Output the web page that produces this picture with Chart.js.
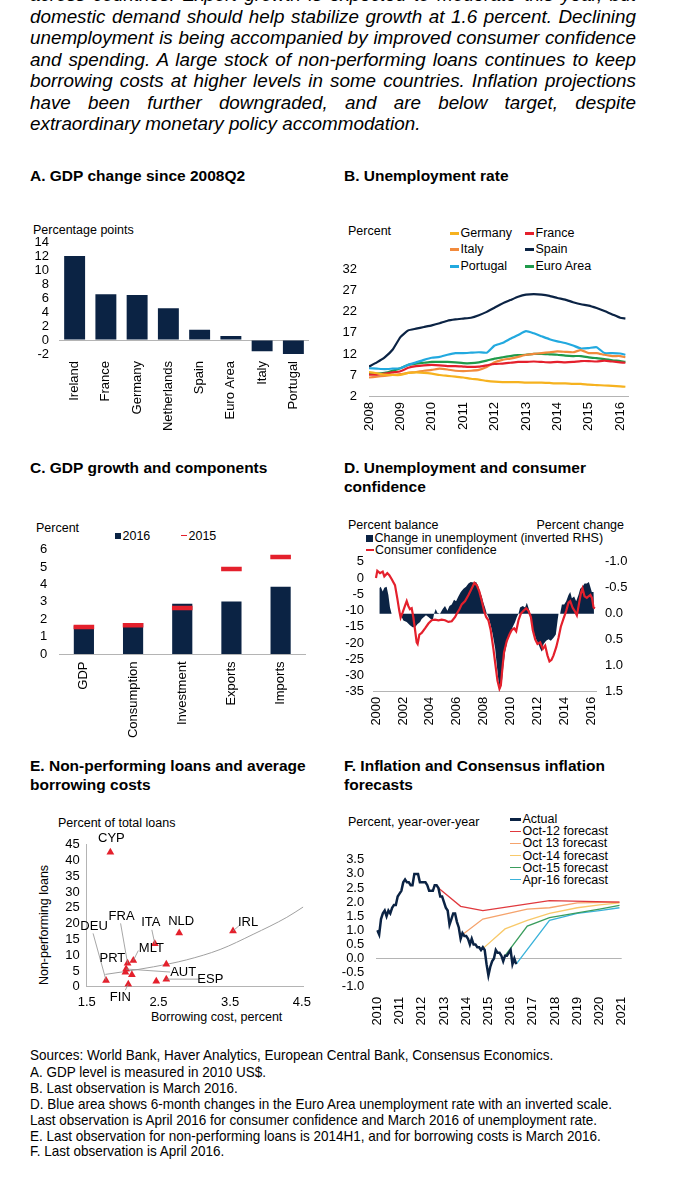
<!DOCTYPE html>
<html>
<head>
<meta charset="utf-8">
<title>Euro Area</title>
<script src="https://cdn.jsdelivr.net/npm/chart.js@4.4.1/dist/chart.umd.min.js"></script>
<style>
  html, body { margin: 0; padding: 0; background: #fff; }
  body { position: relative; width: 675px; height: 1200px; overflow: hidden; font-family: "Liberation Sans", Arial, sans-serif; color: #000; }
  .t { position: absolute; white-space: nowrap; font-size: 12.5px; line-height: 16px; }
  .h { position: absolute; white-space: nowrap; font-weight: bold; font-size: 15.5px; line-height: 19px; }
  .pl { position: absolute; left: 30px; width: 606px; font-family: "Liberation Sans Narrow", "Arial Narrow", sans-serif; font-style: italic; font-size: 19px; line-height: 22px; height: 22px; text-align: justify; text-align-last: justify; transform-origin: 0 0; }
  .pl.last { text-align-last: left; }
  .fn { position: absolute; left: 30px; font-family: "Liberation Sans Narrow", "Arial Narrow", sans-serif; font-size: 15px; line-height: 16px; white-space: nowrap; transform-origin: 0 0; }
  canvas { position: absolute; }
  .mk { position: absolute; }
</style>
</head>
<body>

<div class="pl" style="top:-16px">across countries. Export growth is expected to moderate this year, but</div>
<div class="pl" style="top:5.5px">domestic demand should help stabilize growth at 1.6 percent. Declining</div>
<div class="pl" style="top:27px">unemployment is being accompanied by improved consumer confidence</div>
<div class="pl" style="top:48.5px">and spending. A large stock of non-performing loans continues to keep</div>
<div class="pl" style="top:70px">borrowing costs at higher levels in some countries. Inflation projections</div>
<div class="pl" style="top:91.5px">have been further downgraded, and are below target, despite</div>
<div class="pl last" style="top:113px">extraordinary monetary policy accommodation.</div>

<div class="h" style="left:30px;top:165.5px">A. GDP change since 2008Q2</div>
<div class="h" style="left:344px;top:165.5px">B. Unemployment rate</div>
<div class="h" style="left:30px;top:458px">C. GDP growth and components</div>
<div class="h" style="left:344px;top:458px">D. Unemployment and consumer<br>confidence</div>
<div class="h" style="left:30px;top:755.5px">E. Non-performing loans and average<br>borrowing costs</div>
<div class="h" style="left:344px;top:756px">F. Inflation and Consensus inflation<br>forecasts</div>

<div class="t" style="left:33px;top:222px">Percentage points</div>
<div class="t" style="left:348px;top:223px">Percent</div>
<div class="t" style="left:36px;top:520px">Percent</div>
<div class="t" style="left:348px;top:517px">Percent balance</div>
<div class="t" style="right:51px;top:517px">Percent change</div>
<div class="t" style="left:58px;top:815px">Percent of total loans</div>
<div class="t" style="left:151px;top:1009px">Borrowing cost, percent</div>
<div class="t" style="left:44px;top:925px;transform:translate(-50%,-50%) rotate(-90deg)">Non-performing loans</div>
<div class="t" style="left:348px;top:814px">Percent, year-over-year</div>

<div id="legends"></div>

<canvas id="chartA" width="300" height="220" style="left:20px;top:225px"></canvas>
<canvas id="chartB" width="335" height="190" style="left:340px;top:250px"></canvas>
<canvas id="chartC" width="300" height="215" style="left:20px;top:530px"></canvas>
<canvas id="chartD" width="335" height="200" style="left:340px;top:545px"></canvas>
<canvas id="chartE" width="300" height="200" style="left:20px;top:830px"></canvas>
<canvas id="chartF" width="335" height="195" style="left:340px;top:840px"></canvas>

<div class="fn" style="top:1047px">Sources: World Bank, Haver Analytics, European Central Bank, Consensus Economics.</div>
<div class="fn" style="top:1063.5px">A. GDP level is measured in 2010 US$.</div>
<div class="fn" style="top:1080px">B. Last observation is March 2016.</div>
<div class="fn" style="top:1095.5px">D. Blue area shows 6-month changes in the Euro Area unemployment rate with an inverted scale.</div>
<div class="fn" style="top:1112px">Last observation is April 2016 for consumer confidence and March 2016 of unemployment rate.</div>
<div class="fn" style="top:1127.5px">E. Last observation for non-performing loans is 2014H1, and for borrowing costs is March 2016.</div>
<div class="fn" style="top:1143px">F. Last observation is April 2016.</div>

<script>
const NAVY = "#0b2344";
const RED = "#e4202c";
const AXIS = "#b4b4b4";
const FONT = "'Liberation Sans', Arial, sans-serif";

// A. GDP change since 2008Q2
const gdpCountries = ["Ireland", "France", "Germany", "Netherlands", "Spain", "Euro Area", "Italy", "Portugal"];
const gdpChange = [12.1, 6.6, 6.5, 4.6, 1.5, 0.6, -1.6, -2.0];

// B. Unemployment rate (quarterly readings, last = March 2016)
const unempDates = [2008, 2008.25, 2008.5, 2008.75, 2009, 2009.25, 2009.5, 2009.75, 2010, 2010.25, 2010.5, 2010.75,
  2011, 2011.25, 2011.5, 2011.75, 2012, 2012.25, 2012.5, 2012.75, 2013, 2013.25, 2013.5, 2013.75,
  2014, 2014.25, 2014.5, 2014.75, 2015, 2015.25, 2015.5, 2015.75, 2016, 2016.167];
const unempNames = ["Germany", "France", "Italy", "Spain", "Portugal", "Euro Area"];
const unempColors = ["#f6b21f", "#e4202c", "#f28a3c", "#0b2344", "#22a9df", "#1f9a4a"];
const unempGermany = [7.7, 7.4, 7.1, 7.0, 7.0, 7.5, 7.6, 7.5, 7.3, 7.0, 6.8, 6.6, 6.4, 6.1, 5.9, 5.6, 5.4, 5.3, 5.3, 5.3, 5.2, 5.2, 5.2, 5.1, 5.0, 5.0, 4.9, 4.9, 4.7, 4.6, 4.5, 4.4, 4.3, 4.2];
const unempFrance = [7.1, 7.1, 7.3, 7.6, 7.9, 8.7, 9.1, 9.3, 9.4, 9.3, 9.1, 9.1, 9.0, 8.9, 9.0, 9.3, 9.6, 9.7, 9.9, 10.1, 10.1, 10.2, 10.1, 10.0, 10.1, 10.0, 10.1, 10.3, 10.3, 10.2, 10.4, 10.2, 10.0, 9.9];
const unempItaly = [6.4, 6.6, 6.8, 7.0, 7.2, 7.5, 7.7, 8.0, 8.2, 8.5, 8.3, 8.0, 7.9, 8.0, 8.2, 8.9, 10.0, 10.6, 10.9, 11.3, 11.8, 12.0, 12.2, 12.4, 12.6, 12.5, 12.4, 12.9, 12.2, 12.2, 11.8, 11.5, 11.5, 11.2];
const unempSpain = [9.0, 10.0, 11.2, 13.0, 16.0, 17.6, 18.0, 18.4, 18.8, 19.3, 19.9, 20.2, 20.4, 20.6, 21.2, 22.0, 23.0, 24.0, 24.8, 25.6, 26.1, 26.2, 26.1, 25.8, 25.3, 24.9, 24.3, 23.8, 23.5, 22.9, 22.2, 21.4, 20.6, 20.4];
const unempPortugal = [8.6, 8.5, 8.4, 8.5, 8.6, 9.4, 10.0, 10.6, 11.1, 11.3, 11.8, 12.2, 12.2, 12.3, 12.4, 12.3, 14.0, 14.6, 15.6, 16.5, 17.4, 16.9, 16.2, 15.5, 15.0, 14.6, 14.0, 13.3, 13.4, 13.6, 12.2, 12.2, 12.1, 11.8];
const unempEuro = [7.3, 7.3, 7.5, 8.0, 8.6, 9.4, 9.7, 9.9, 10.1, 10.1, 10.1, 10.0, 9.8, 9.8, 10.0, 10.4, 10.9, 11.2, 11.5, 11.7, 11.8, 12.0, 12.0, 11.9, 11.8, 11.6, 11.5, 11.5, 11.2, 11.0, 10.8, 10.5, 10.3, 10.1];
const unempSeries = [unempGermany, unempFrance, unempItaly, unempSpain, unempPortugal, unempEuro];
const unempYearTicks = [2008, 2009, 2010, 2011, 2012, 2013, 2014, 2015, 2016];
const unempValueTicks = [2, 7, 12, 17, 22, 27, 32];

// C. GDP growth and components
const compLabels = ["GDP", "Consumption", "Investment", "Exports", "Imports"];
const growth2016 = [1.63, 1.78, 2.9, 3.02, 3.87];
const growth2015 = [1.55, 1.66, 2.65, 4.9, 5.58];
const growthTicks = [0, 1, 2, 3, 4, 5, 6];

// D. Unemployment change (inverted RHS) and consumer confidence: [year, value]
const confidence = [[2000.0, 0.0], [2000.1, 2.2], [2000.3, 1.5], [2000.5, 2.0], [2000.62, 0.5], [2000.84, 1.5], [2000.99, 0.9],
  [2001.16, -0.3], [2001.41, -2.2], [2001.58, -6.2], [2001.73, -10.1], [2001.83, -12.2], [2001.98, -10.6], [2002.15, -8.6],
  [2002.28, -7.1], [2002.4, -8.6], [2002.52, -9.6], [2002.65, -9.3], [2002.77, -12.0], [2002.9, -16.0], [2003.02, -19.8],
  [2003.09, -20.3], [2003.22, -17.4], [2003.39, -16.9], [2003.64, -15.5], [2003.89, -14.0], [2004.13, -13.0], [2004.38, -12.8],
  [2004.63, -13.0], [2004.88, -12.8], [2005.12, -13.0], [2005.37, -13.5], [2005.62, -13.3], [2005.87, -12.0], [2005.99, -11.0],
  [2006.19, -9.6], [2006.36, -8.1], [2006.61, -7.1], [2006.86, -5.2], [2007.1, -3.2], [2007.3, -1.5], [2007.48, -2.2],
  [2007.67, -4.2], [2007.85, -7.1], [2008.02, -10.1], [2008.17, -12.0], [2008.34, -13.0], [2008.51, -16.0], [2008.71, -21.8],
  [2008.86, -26.7], [2009.01, -31.6], [2009.16, -34.1], [2009.26, -33.1], [2009.38, -27.7], [2009.5, -22.8], [2009.7, -19.4],
  [2009.9, -17.4], [2010.07, -16.0], [2010.25, -15.5], [2010.4, -16.4], [2010.57, -13.0], [2010.74, -11.0], [2010.94, -10.1],
  [2011.14, -9.3], [2011.31, -10.1], [2011.49, -12.0], [2011.63, -16.0], [2011.81, -18.9], [2011.98, -20.3], [2012.18, -19.8],
  [2012.38, -21.8], [2012.55, -20.8], [2012.72, -23.8], [2012.87, -25.7], [2013.02, -25.2], [2013.17, -23.8], [2013.37, -21.3],
  [2013.54, -18.4], [2013.71, -15.0], [2013.91, -12.5], [2014.11, -10.1], [2014.28, -7.6], [2014.41, -7.1], [2014.58, -9.1],
  [2014.73, -10.1], [2014.9, -11.5], [2015.05, -8.1], [2015.2, -4.7], [2015.32, -3.2], [2015.47, -5.6], [2015.64, -6.1],
  [2015.77, -5.6], [2015.9, -5.2], [2016.02, -6.1], [2016.14, -9.1], [2016.25, -9.3]];
const unempChange = [[2000.25, -0.49], [2000.35, -0.52], [2000.5, -0.43], [2000.62, -0.5], [2000.79, -0.52], [2000.92, -0.36],
  [2001.04, -0.12], [2001.16, 0], [2001.78, 0], [2001.91, 0.06], [2002.03, 0.13], [2002.28, 0.16], [2002.52, 0.22], [2002.72, 0.26],
  [2002.9, 0.26], [2003.07, 0.2], [2003.27, 0.16], [2003.39, 0.1], [2003.56, 0.06], [2003.71, 0.03], [2003.89, 0.06], [2004.06, 0.1],
  [2004.21, 0.13], [2004.31, 0], [2004.43, -0.09], [2004.55, -0.02], [2004.75, 0], [2004.95, -0.09], [2005.12, -0.15], [2005.3, -0.06],
  [2005.45, -0.15], [2005.62, -0.18], [2005.79, -0.27], [2005.94, -0.24], [2006.11, -0.33], [2006.29, -0.42], [2006.49, -0.48],
  [2006.68, -0.52], [2006.86, -0.58], [2007.03, -0.61], [2007.23, -0.6], [2007.43, -0.61], [2007.6, -0.52], [2007.72, -0.42],
  [2007.85, -0.33], [2007.97, -0.21], [2008.09, -0.12], [2008.22, 0], [2008.34, 0.06], [2008.51, 0.22], [2008.66, 0.4],
  [2008.84, 0.67], [2008.96, 0.98], [2009.08, 1.28], [2009.21, 1.45], [2009.33, 1.34], [2009.46, 0.98], [2009.58, 0.73],
  [2009.75, 0.52], [2009.95, 0.37], [2010.15, 0.25], [2010.32, 0.16], [2010.45, 0.06], [2010.57, 0], [2010.69, -0.12],
  [2010.89, -0.15], [2011.06, -0.12], [2011.19, -0.21], [2011.34, -0.09], [2011.44, 0], [2011.53, 0.1], [2011.68, 0.34],
  [2011.88, 0.49], [2012.05, 0.58], [2012.18, 0.67], [2012.3, 0.73], [2012.43, 0.58], [2012.62, 0.52], [2012.8, 0.49],
  [2012.97, 0.52], [2013.17, 0.46], [2013.34, 0.4], [2013.47, 0.13], [2013.54, 0], [2013.66, 0], [2013.79, -0.18],
  [2013.96, -0.18], [2014.11, -0.24], [2014.28, -0.36], [2014.41, -0.42], [2014.53, -0.3], [2014.7, -0.33], [2014.85, -0.24],
  [2015.02, -0.36], [2015.15, -0.48], [2015.32, -0.52], [2015.47, -0.58], [2015.64, -0.58], [2015.79, -0.61], [2015.94, -0.48],
  [2016.01, -0.42], [2016.14, -0.42], [2016.17, -0.42]];
const confYearTicks = [2000, 2002, 2004, 2006, 2008, 2010, 2012, 2014, 2016];
const confLeftTicks = [-35, -30, -25, -20, -15, -10, -5, 0, 5];
const confRightTicks = [-1.0, -0.5, 0.0, 0.5, 1.0, 1.5];

// E. Non-performing loans vs borrowing cost
const npCodes = ["CYP", "DEU", "FIN", "FRA", "PRT", "AUT", "", "MLT", "ITA", "NLD", "IRL", "", "", "ESP"];
const npCost = [1.83, 1.77, 2.08, 2.07, 2.04, 2.05, 2.13, 2.15, 2.45, 2.79, 3.54, 2.61, 2.47, 2.61];
const npLoans = [42.6, 2.0, 0.8, 7.4, 4.6, 5.6, 3.8, 8.3, 13.6, 17.0, 17.7, 7.1, 1.7, 2.4];
// label offset from its point in px: [dx, dy, leaderDx, leaderDy]
const npLabelOffsets = [[1, -14], [-12, -54, -13, -47], [-8, 13, -3, 6], [-6, -47, -7, -40], [-13, -14], [57, 3, 44, 3], null,
  [18, -12, 5, -10], [-4, -21, -3, -14], [2, -12], [15, -8, 7, -6], null, null, [44, 0, 32, 0]];
const trendCost = [1.76, 2.0, 2.43, 2.89, 3.36, 3.82, 4.29, 4.52];
const trendLoans = [3.9, 4.7, 6.3, 8.5, 11.8, 16.6, 22.0, 25.3];
const npCostTicks = [1.5, 2.5, 3.5, 4.5];
const npLoanTicks = [0, 5, 10, 15, 20, 25, 30, 35, 40, 45];

// F. Inflation (monthly, Jan 2010 - Apr 2016) and Consensus forecasts
const inflActual = [1.0, 0.85, 1.4, 1.6, 1.7, 1.5, 1.7, 1.6, 1.8, 1.9, 1.9, 2.2,
  2.3, 2.4, 2.7, 2.8, 2.7, 2.7, 2.6, 2.6, 3.0, 3.0, 3.0, 2.7,
  2.7, 2.7, 2.7, 2.6, 2.4, 2.4, 2.4, 2.6, 2.6, 2.5, 2.2, 2.2,
  2.0, 1.8, 1.7, 1.2, 1.4, 1.6, 1.6, 1.3, 1.1, 0.7, 0.9, 0.8,
  0.8, 0.7, 0.5, 0.7, 0.5, 0.5, 0.4, 0.4, 0.3, 0.4, 0.3, -0.2,
  -0.6, -0.3, -0.1, 0.0, 0.3, 0.2, 0.2, 0.1, -0.1, 0.1, 0.1, 0.2,
  0.3, -0.2, 0.0, -0.2];
const fcNames = ["Oct-12 forecast", "Oct 13 forecast", "Oct-14 forecast", "Oct-15 forecast", "Apr-16 forecast"];
const fcColors = ["#e0393e", "#f5a36c", "#f8c96a", "#3a9d5d", "#3ab2d9"];
const fcDates = [
  [2012.75, 2013.75, 2014.75, 2017.75, 2020.9],
  [2013.75, 2014.75, 2016.75, 2017.75, 2019.0, 2020.9],
  [2014.75, 2015.75, 2016.75, 2017.75, 2019.0, 2020.0, 2020.9],
  [2015.75, 2016.75, 2017.75, 2019.0, 2020.0, 2020.9],
  [2016.25, 2017.75, 2019.0, 2020.0, 2020.9]];
const fcValues = [
  [2.5, 1.85, 1.7, 2.05, 2.0],
  [0.8, 1.4, 1.75, 1.8, 1.97, 2.0],
  [0.35, 1.05, 1.35, 1.6, 1.8, 1.9, 1.97],
  [0.1, 1.15, 1.45, 1.62, 1.75, 1.88],
  [-0.2, 1.35, 1.6, 1.7, 1.8]];
const inflYearTicks = [2010, 2011, 2012, 2013, 2014, 2015, 2016, 2017, 2018, 2019, 2020, 2021];
const inflValueTicks = [-1.0, -0.5, 0.0, 0.5, 1.0, 1.5, 2.0, 2.5, 3.0, 3.5];

// ---------- stretch the condensed paragraph and notes to the page measure ----------
function naturalWidth(el) {
  const s = document.createElement("span");
  const cs = getComputedStyle(el);
  s.style.fontFamily = cs.fontFamily;
  s.style.fontSize = cs.fontSize;
  s.style.fontStyle = cs.fontStyle;
  s.style.whiteSpace = "nowrap";
  s.style.position = "absolute";
  s.style.visibility = "hidden";
  s.textContent = el.textContent;
  document.body.appendChild(s);
  const w = s.getBoundingClientRect().width;
  s.remove();
  return w;
}
(function () {
  const lines = Array.from(document.querySelectorAll(".pl"));
  const widest = Math.max(...lines.slice(0, 6).map(naturalWidth));
  const k = 603 / widest;
  lines.forEach(el => { el.style.transform = "scaleX(" + k + ")"; el.style.width = (606 / k) + "px"; });
  const notes = Array.from(document.querySelectorAll(".fn"));
  const k2 = 582 / naturalWidth(notes[3]);
  notes.forEach(el => { el.style.transform = "scaleX(" + k2 + ")"; });
})();

// ---------- legends ----------
function legendItem(x, y, kind, color, text, size) {
  const box = document.getElementById("legends");
  const m = document.createElement("div");
  m.className = "mk";
  m.style.background = color;
  const w = kind === "box" ? size : size.w;
  const h = kind === "box" ? size : size.h;
  m.style.left = x + "px"; m.style.top = (y - h / 2) + "px";
  m.style.width = w + "px"; m.style.height = h + "px";
  box.appendChild(m);
  const t = document.createElement("div");
  t.className = "t";
  t.style.left = (x + w + 1.5) + "px";
  t.style.top = (y - 8) + "px";
  t.textContent = text;
  box.appendChild(t);
}
unempNames.forEach((n, i) => {
  const col = i % 2, row = Math.floor(i / 2);
  legendItem(col ? 525 : 450, [233.3, 249.3, 266][row], "line", unempColors[i], n, { w: 9, h: 3 });
});
legendItem(115, 535.7, "box", NAVY, "2016", 6);
legendItem(181, 535.7, "line", RED, "2015", { w: 6, h: 1.5 });
legendItem(365.5, 538.3, "box", NAVY, "Change in unemployment (inverted RHS)", 7.5);
legendItem(365.5, 550, "line", RED, "Consumer confidence", { w: 8, h: 2.5 });
legendItem(510, 819.3, "line", NAVY, "Actual", { w: 11, h: 3 });
fcNames.forEach((n, i) => legendItem(510, [831.3, 843.3, 855.5, 867.5, 879.5][i], "line", fcColors[i], n, { w: 11, h: 1.5 }));

// ---------- Chart.js ----------
Chart.defaults.font.family = FONT;
Chart.defaults.font.size = 13;
Chart.defaults.color = "#000";
Chart.defaults.animation = false;
Chart.defaults.responsive = false;
Chart.defaults.plugins.legend.display = false;
Chart.defaults.plugins.tooltip.enabled = false;

const fixedWidth = w => s => { s.width = w; };
const fixedHeight = h => s => { s.height = h; };
const setTicks = vals => s => { s.ticks = vals.map(v => ({ value: v })); };
const zeroGrid = { drawTicks: false, color: c => (c.tick && c.tick.value === 0 ? AXIS : "rgba(0,0,0,0)") };
const noGrid = { display: false, drawTicks: false };
const rotated = pad => ({ minRotation: 90, maxRotation: 90, autoSkip: false, padding: pad });
const yTicks = (pad, fmt) => ({ autoSkip: false, padding: pad, callback: fmt || (v => String(v)) });
const one = v => v.toFixed(1);

// A
new Chart(document.getElementById("chartA"), {
  type: "bar",
  data: { labels: gdpCountries, datasets: [{ data: gdpChange, backgroundColor: NAVY, categoryPercentage: 1, barPercentage: 0.67 }] },
  options: {
    layout: { padding: { top: 17, right: 11 } },
    scales: {
      x: { grid: noGrid, border: { display: false }, ticks: rotated(7), afterFit: fixedHeight(91) },
      y: { min: -2, max: 14, afterBuildTicks: setTicks([-2, 0, 2, 4, 6, 8, 10, 12, 14]), ticks: yTicks(10),
        grid: zeroGrid, border: { display: false }, afterFit: fixedWidth(39) }
    }
  }
});

// B
new Chart(document.getElementById("chartB"), {
  type: "line",
  data: {
    datasets: unempNames.map((name, i) => ({
      label: name,
      data: unempDates.map((d, j) => ({ x: d, y: unempSeries[i][j] })),
      borderColor: unempColors[i], borderWidth: 2.2, pointRadius: 0, tension: 0.15
    }))
  },
  options: {
    layout: { padding: { top: 12.7, right: 47 } },
    scales: {
      x: { type: "linear", min: 2008, max: 2016.25, afterBuildTicks: setTicks(unempYearTicks),
        ticks: Object.assign(rotated(6), { callback: v => String(v) }),
        grid: noGrid, border: { color: AXIS }, afterFit: fixedHeight(44) },
      y: { min: 2, max: 32, afterBuildTicks: setTicks(unempValueTicks), ticks: yTicks(12),
        grid: noGrid, border: { display: false }, afterFit: fixedWidth(29) }
    }
  }
});

// C
new Chart(document.getElementById("chartC"), {
  type: "bar",
  data: {
    labels: compLabels,
    datasets: [
      { type: "line", label: "2015", data: growth2015, showLine: false, pointStyle: "line", pointRadius: 10.3,
        pointBorderWidth: 4.5, pointBorderColor: RED, borderColor: RED, order: 0 },
      { type: "bar", label: "2016", data: growth2016, backgroundColor: NAVY, categoryPercentage: 1, barPercentage: 0.41, order: 1 }
    ]
  },
  options: {
    layout: { padding: { top: 13.3, right: 11 } },
    scales: {
      x: { grid: noGrid, border: { color: AXIS }, ticks: rotated(7.5), afterFit: fixedHeight(91) },
      y: { min: 0, max: 6, afterBuildTicks: setTicks(growthTicks), ticks: yTicks(12), grid: noGrid,
        border: { display: false }, afterFit: fixedWidth(39.3) }
    }
  }
});

// D
new Chart(document.getElementById("chartD"), {
  type: "line",
  data: {
    datasets: [
      { label: "Consumer confidence", data: confidence.map(p => ({ x: p[0], y: p[1] })), yAxisID: "y",
        borderColor: RED, borderWidth: 2.2, pointRadius: 0, order: 0 },
      { label: "Change in unemployment (inverted RHS)", data: unempChange.map(p => ({ x: p[0], y: p[1] })), yAxisID: "y2",
        borderWidth: 0, borderColor: NAVY, backgroundColor: NAVY, fill: "origin", pointRadius: 0, order: 1 }
    ]
  },
  options: {
    layout: { padding: { top: 10.3 } },
    scales: {
      x: { type: "linear", min: 1999.78, max: 2016.32, afterBuildTicks: setTicks(confYearTicks),
        ticks: Object.assign(rotated(5), { callback: v => String(v) }),
        grid: noGrid, border: { color: AXIS }, afterFit: fixedHeight(53.3) },
      y: { min: -35, max: 5, afterBuildTicks: setTicks(confLeftTicks), ticks: yTicks(9),
        grid: noGrid, border: { display: false }, afterFit: fixedWidth(33) },
      y2: { position: "right", reverse: true, min: -1, max: 1.5, afterBuildTicks: setTicks(confRightTicks),
        ticks: yTicks(9, one), grid: noGrid, border: { display: false }, afterFit: fixedWidth(79) }
    }
  }
});

// E
const npLabelPlugin = {
  id: "npLabels",
  afterDatasetsDraw(chart) {
    const { ctx, scales: { x, y } } = chart;
    ctx.save();
    ctx.font = "13px " + FONT;
    ctx.fillStyle = "#000";
    ctx.strokeStyle = "#8f8f8f";
    ctx.lineWidth = 0.8;
    ctx.textAlign = "center";
    ctx.textBaseline = "middle";
    npCodes.forEach((code, i) => {
      const o = npLabelOffsets[i];
      if (!code || !o) return;
      const px = x.getPixelForValue(npCost[i]);
      const py = y.getPixelForValue(npLoans[i]);
      if (o.length > 2) {
        ctx.beginPath();
        ctx.moveTo(px + o[2], py + o[3]);
        ctx.lineTo(px, py);
        ctx.stroke();
      }
      ctx.fillText(code, px + o[0], py + o[1]);
    });
    ctx.restore();
  }
};
new Chart(document.getElementById("chartE"), {
  type: "scatter",
  data: {
    datasets: [
      { label: "Countries", data: npCost.map((c, i) => ({ x: c, y: npLoans[i] })), pointStyle: "triangle",
        pointRadius: 4.5, backgroundColor: RED, borderColor: RED, borderWidth: 0, order: 0 },
      { type: "line", label: "Trend", data: trendCost.map((c, i) => ({ x: c, y: trendLoans[i] })),
        borderColor: "#a0a0a0", borderWidth: 1, pointRadius: 0, cubicInterpolationMode: "monotone", order: 1 }
    ]
  },
  options: {
    layout: { padding: { top: 8.3, right: 16.7 } },
    scales: {
      x: { type: "linear", min: 1.5, max: 4.52, afterBuildTicks: setTicks(npCostTicks),
        ticks: { autoSkip: false, padding: 8, callback: one },
        grid: noGrid, border: { color: AXIS }, afterFit: fixedHeight(43.3) },
      y: { min: 0, max: 45, afterBuildTicks: setTicks(npLoanTicks), ticks: yTicks(7),
        grid: noGrid, border: { color: AXIS }, afterFit: fixedWidth(66.7) }
    }
  },
  plugins: [npLabelPlugin]
});

// F
new Chart(document.getElementById("chartF"), {
  type: "line",
  data: {
    datasets: [
      { label: "Actual", data: inflActual.map((v, i) => ({ x: 2010 + i / 12, y: v })), borderColor: NAVY,
        borderWidth: 2.5, pointRadius: 0, order: 0 }
    ].concat(fcNames.map((n, k) => ({
      label: n, data: fcDates[k].map((d, j) => ({ x: d, y: fcValues[k][j] })), borderColor: fcColors[k],
      borderWidth: 1.3, pointRadius: 0, order: 1
    })))
  },
  options: {
    layout: { padding: { top: 11.7, right: 53.3 } },
    scales: {
      x: { type: "linear", min: 2009.95, max: 2021, afterBuildTicks: setTicks(inflYearTicks),
        ticks: Object.assign(rotated(10), { callback: v => String(v) }),
        grid: noGrid, border: { display: false }, afterFit: fixedHeight(48.3) },
      y: { min: -1, max: 3.5, afterBuildTicks: setTicks(inflValueTicks), ticks: yTicks(12, one),
        grid: zeroGrid, border: { display: false }, afterFit: fixedWidth(36.2) }
    }
  }
});
</script>
</body>
</html>
